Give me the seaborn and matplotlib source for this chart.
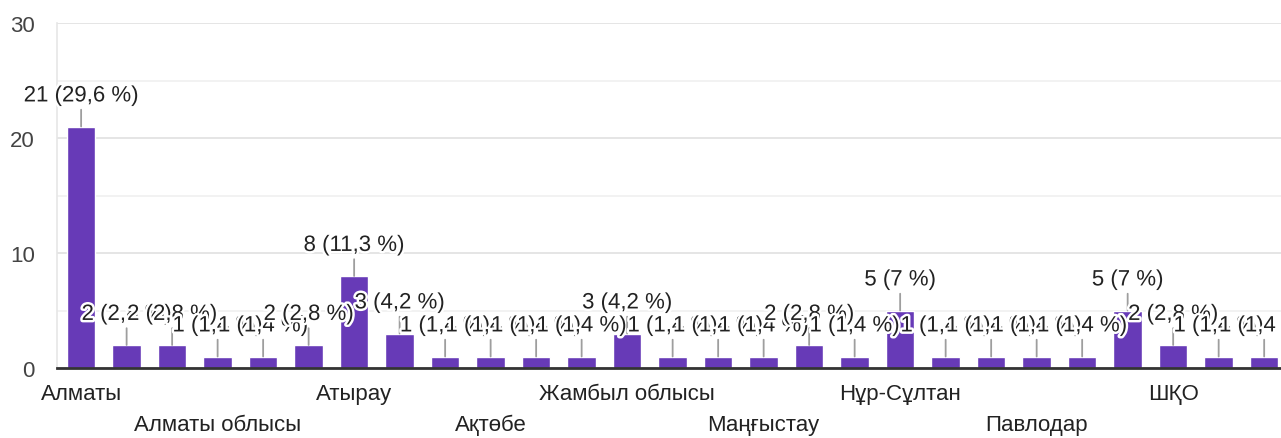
import numpy as np
import pandas as pd
import matplotlib
matplotlib.use("Agg")
import matplotlib.pyplot as plt
import matplotlib.patheffects as pe
import seaborn as sns

# Data (27 regions, every third name is visible)
counts = [21, 2, 2, 1, 1, 2, 8, 3, 1, 1, 1, 1, 3, 1, 1, 1, 2, 1, 5, 1, 1, 1, 1, 5, 2, 1, 1]
label_positions = [0, 3, 6, 9, 12, 15, 18, 21, 24]
label_names = ["Алматы", "Алматы облысы", "Атырау", "Ақтөбе", "Жамбыл облысы",
               "Маңғыстау", "Нұр-Сұлтан", "Павлодар", "ШҚО"]
y_ticks = [0, 10, 20, 30]

BAR_COLOR = "#673ab7"
total = sum(counts)

sns.set_theme(style="white")
plt.rcParams["font.family"] = ["Liberation Sans", "DejaVu Sans"]
plt.rcParams["font.size"] = 16

df = pd.DataFrame({"idx": np.arange(len(counts)), "count": counts})

fig = plt.figure(figsize=(12.81, 4.39), dpi=100)
ax = fig.add_axes([57 / 1281, 70 / 439, 1 - 57 / 1281, 345 / 439])

sns.barplot(data=df, x="idx", y="count", color=BAR_COLOR, saturation=1,
            width=0.63, ax=ax, zorder=2)

ax.set_xlim(-0.53, 26.37)
ax.set_ylim(0, 30)

# grid: major every 10, lighter minor every 5
ax.set_yticks(y_ticks)
ax.set_yticks([5, 15, 25], minor=True)
ax.grid(axis="y", which="major", color="#e3e3e3", lw=1.3, zorder=0)
ax.grid(axis="y", which="minor", color="#f1f1f1", lw=1.3, zorder=0)
ax.tick_params(axis="y", which="both", length=0, pad=16, labelcolor="#444444",
               labelsize=16)

for s in ["top", "right"]:
    ax.spines[s].set_visible(False)
ax.spines["left"].set_color("#e6e6e6")
ax.spines["left"].set_linewidth(1.2)
ax.spines["bottom"].set_color("#333333")
ax.spines["bottom"].set_linewidth(2)
ax.spines["bottom"].set_zorder(3)

# staggered category labels
ax.set_xticks(label_positions)
ax.set_xticklabels(label_names, color="#222222", fontsize=16)
ax.tick_params(axis="x", length=0)
for k, tick in enumerate(ax.xaxis.get_major_ticks()):
    tick.set_pad(11 if k % 2 == 0 else 33)
ax.set_xlabel("")
ax.set_ylabel("")

# value labels with leader lines
halo = [pe.withStroke(linewidth=3.5, foreground="white")]
for i, v in enumerate(counts):
    pct = f"{v / total * 100:.1f}".replace(".", ",")
    if pct.endswith(",0"):
        pct = pct[:-2]
    ax.annotate(f"{v} ({pct} %)", xy=(i, v), xytext=(0, 22),
                textcoords="offset points", ha="center", va="center",
                fontsize=16, color="#222222", zorder=4, path_effects=halo,
                arrowprops=dict(arrowstyle="-", color="#9e9e9e", lw=1.3,
                                shrinkA=0, shrinkB=0))

fig.savefig("out.png", dpi=100)
